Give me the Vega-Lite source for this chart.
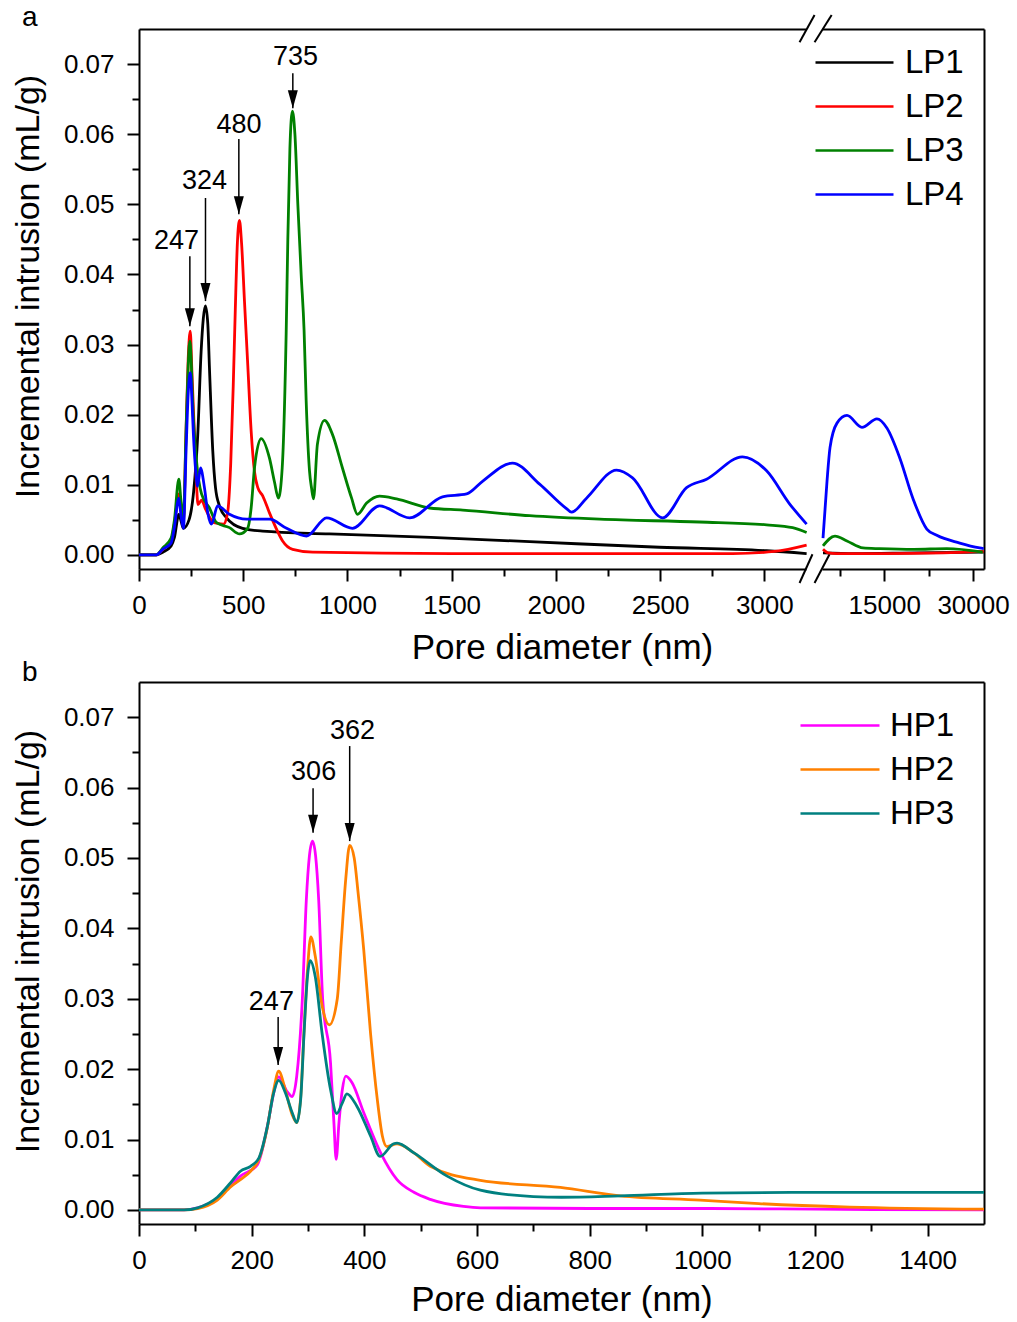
{
 "$schema": "https://vega.github.io/schema/vega-lite/v6.json",
 "padding": {"left": 11, "top": 3, "right": 5, "bottom": 5},
 "bounds": "flush",
 "spacing": 653,
 "config": {
  "font": "Liberation Sans",
  "view": {"stroke": null},
  "axis": {"grid": false, "domainColor": "#000", "domainWidth": 2, "tickColor": "#000", "tickWidth": 2, "labelColor": "#000", "titleColor": "#000", "labelFontSize": 26, "titleFontSize": 34, "titleFontWeight": "normal", "labelFlush": false, "labelOverlap": false},
  "legend": {"labelColor": "#000", "padding": 0},
  "title": {"fontWeight": "normal", "color": "#000"}
 },
 "resolve": {"scale": {"color": "independent"}, "legend": {"color": "independent"}},
 "datasets": {
  "lp": [
   {"s":"LP1","d":0,"v":0},{"s":"LP1","d":82,"v":0},{"s":"LP1","d":114,"v":0.0004},{"s":"LP1","d":154,"v":0.0013},{"s":"LP1","d":170,"v":0.0025},{"s":"LP1","d":191,"v":0.0058},{"s":"LP1","d":202,"v":0.0048},{"s":"LP1","d":213,"v":0.0038},{"s":"LP1","d":240,"v":0.005},{"s":"LP1","d":262,"v":0.009},{"s":"LP1","d":282,"v":0.0172},{"s":"LP1","d":298,"v":0.029},{"s":"LP1","d":319,"v":0.0355},{"s":"LP1","d":330,"v":0.033},{"s":"LP1","d":338,"v":0.0267},{"s":"LP1","d":354,"v":0.0148},{"s":"LP1","d":367,"v":0.0096},{"s":"LP1","d":386,"v":0.007},{"s":"LP1","d":420,"v":0.0053},{"s":"LP1","d":497,"v":0.0038},{"s":"LP1","d":593,"v":0.0034},{"s":"LP1","d":914,"v":0.003},{"s":"LP1","d":1400,"v":0.0025},{"s":"LP1","d":1874,"v":0.0019},{"s":"LP1","d":2497,"v":0.0011},{"s":"LP1","d":3011,"v":0.0006},{"s":"LP1","d":3203,"v":0.0002},{"s":"LP1","d":4671,"v":0.0003},{"s":"LP1","d":10000,"v":0.0002},{"s":"LP1","d":20000,"v":0.0003},{"s":"LP1","d":31800,"v":0.0004},
   {"s":"LP2","d":0,"v":0},{"s":"LP2","d":82,"v":0},{"s":"LP2","d":114,"v":0.0008},{"s":"LP2","d":154,"v":0.002},{"s":"LP2","d":170,"v":0.0045},{"s":"LP2","d":191,"v":0.0087},{"s":"LP2","d":202,"v":0.0062},{"s":"LP2","d":213,"v":0.0048},{"s":"LP2","d":226,"v":0.018},{"s":"LP2","d":236,"v":0.028},{"s":"LP2","d":246,"v":0.0319},{"s":"LP2","d":254,"v":0.026},{"s":"LP2","d":266,"v":0.0172},{"s":"LP2","d":276,"v":0.01},{"s":"LP2","d":283,"v":0.0072},{"s":"LP2","d":300,"v":0.0078},{"s":"LP2","d":320,"v":0.0065},{"s":"LP2","d":360,"v":0.0046},{"s":"LP2","d":405,"v":0.0044},{"s":"LP2","d":425,"v":0.006},{"s":"LP2","d":440,"v":0.013},{"s":"LP2","d":452,"v":0.024},{"s":"LP2","d":462,"v":0.035},{"s":"LP2","d":472,"v":0.0445},{"s":"LP2","d":482,"v":0.0477},{"s":"LP2","d":492,"v":0.0445},{"s":"LP2","d":506,"v":0.0362},{"s":"LP2","d":522,"v":0.027},{"s":"LP2","d":538,"v":0.0177},{"s":"LP2","d":554,"v":0.0119},{"s":"LP2","d":570,"v":0.0096},{"s":"LP2","d":594,"v":0.0084},{"s":"LP2","d":626,"v":0.006},{"s":"LP2","d":658,"v":0.0038},{"s":"LP2","d":689,"v":0.002},{"s":"LP2","d":737,"v":0.0008},{"s":"LP2","d":833,"v":0.0004},{"s":"LP2","d":1500,"v":0.0002},{"s":"LP2","d":2500,"v":0.0002},{"s":"LP2","d":2848,"v":0.0002},{"s":"LP2","d":3050,"v":0.0005},{"s":"LP2","d":3203,"v":0.0014},{"s":"LP2","d":4671,"v":0.0008},{"s":"LP2","d":5500,"v":0.0003},{"s":"LP2","d":7000,"v":0.0002},{"s":"LP2","d":15000,"v":0.0002},{"s":"LP2","d":25000,"v":0.0003},{"s":"LP2","d":31800,"v":0.0005},
   {"s":"LP3","d":0,"v":0},{"s":"LP3","d":82,"v":0},{"s":"LP3","d":114,"v":0.001},{"s":"LP3","d":154,"v":0.0024},{"s":"LP3","d":170,"v":0.005},{"s":"LP3","d":191,"v":0.0108},{"s":"LP3","d":202,"v":0.0075},{"s":"LP3","d":213,"v":0.0053},{"s":"LP3","d":226,"v":0.018},{"s":"LP3","d":236,"v":0.027},{"s":"LP3","d":244,"v":0.0305},{"s":"LP3","d":250,"v":0.028},{"s":"LP3","d":257,"v":0.022},{"s":"LP3","d":276,"v":0.0134},{"s":"LP3","d":300,"v":0.0087},{"s":"LP3","d":338,"v":0.0067},{"s":"LP3","d":372,"v":0.0046},{"s":"LP3","d":434,"v":0.0039},{"s":"LP3","d":482,"v":0.003},{"s":"LP3","d":521,"v":0.0038},{"s":"LP3","d":538,"v":0.0067},{"s":"LP3","d":554,"v":0.0124},{"s":"LP3","d":586,"v":0.0166},{"s":"LP3","d":626,"v":0.0138},{"s":"LP3","d":650,"v":0.0104},{"s":"LP3","d":669,"v":0.0081},{"s":"LP3","d":687,"v":0.0124},{"s":"LP3","d":706,"v":0.0315},{"s":"LP3","d":714,"v":0.045},{"s":"LP3","d":724,"v":0.058},{"s":"LP3","d":736,"v":0.0633},{"s":"LP3","d":748,"v":0.06},{"s":"LP3","d":762,"v":0.05},{"s":"LP3","d":778,"v":0.04},{"s":"LP3","d":792,"v":0.032},{"s":"LP3","d":802,"v":0.022},{"s":"LP3","d":818,"v":0.012},{"s":"LP3","d":828,"v":0.0095},{"s":"LP3","d":837,"v":0.008},{"s":"LP3","d":856,"v":0.0158},{"s":"LP3","d":890,"v":0.0192},{"s":"LP3","d":928,"v":0.0172},{"s":"LP3","d":976,"v":0.0124},{"s":"LP3","d":1020,"v":0.0081},{"s":"LP3","d":1048,"v":0.0058},{"s":"LP3","d":1092,"v":0.0074},{"s":"LP3","d":1154,"v":0.0084},{"s":"LP3","d":1236,"v":0.008},{"s":"LP3","d":1394,"v":0.0067},{"s":"LP3","d":1553,"v":0.0064},{"s":"LP3","d":1874,"v":0.0056},{"s":"LP3","d":2210,"v":0.0051},{"s":"LP3","d":2689,"v":0.0047},{"s":"LP3","d":3011,"v":0.0043},{"s":"LP3","d":3136,"v":0.0039},{"s":"LP3","d":3203,"v":0.0032},{"s":"LP3","d":4671,"v":0.0013},{"s":"LP3","d":6693,"v":0.0027},{"s":"LP3","d":8715,"v":0.002},{"s":"LP3","d":11411,"v":0.001},{"s":"LP3","d":14275,"v":0.0009},{"s":"LP3","d":20000,"v":0.0008},{"s":"LP3","d":25565,"v":0.0009},{"s":"LP3","d":31631,"v":0.0004},
   {"s":"LP4","d":0,"v":0},{"s":"LP4","d":82,"v":0},{"s":"LP4","d":114,"v":0.0008},{"s":"LP4","d":154,"v":0.0017},{"s":"LP4","d":170,"v":0.004},{"s":"LP4","d":191,"v":0.0081},{"s":"LP4","d":202,"v":0.0055},{"s":"LP4","d":213,"v":0.0038},{"s":"LP4","d":226,"v":0.015},{"s":"LP4","d":236,"v":0.023},{"s":"LP4","d":246,"v":0.026},{"s":"LP4","d":254,"v":0.022},{"s":"LP4","d":261,"v":0.0172},{"s":"LP4","d":272,"v":0.012},{"s":"LP4","d":281,"v":0.0098},{"s":"LP4","d":295,"v":0.0124},{"s":"LP4","d":314,"v":0.0096},{"s":"LP4","d":330,"v":0.006},{"s":"LP4","d":348,"v":0.0044},{"s":"LP4","d":377,"v":0.007},{"s":"LP4","d":434,"v":0.0058},{"s":"LP4","d":516,"v":0.0051},{"s":"LP4","d":626,"v":0.0051},{"s":"LP4","d":708,"v":0.0038},{"s":"LP4","d":804,"v":0.0027},{"s":"LP4","d":900,"v":0.0053},{"s":"LP4","d":1024,"v":0.0038},{"s":"LP4","d":1154,"v":0.007},{"s":"LP4","d":1298,"v":0.0053},{"s":"LP4","d":1456,"v":0.0083},{"s":"LP4","d":1572,"v":0.0087},{"s":"LP4","d":1648,"v":0.0105},{"s":"LP4","d":1792,"v":0.0131},{"s":"LP4","d":1922,"v":0.0101},{"s":"LP4","d":2051,"v":0.0066},{"s":"LP4","d":2075,"v":0.0061},{"s":"LP4","d":2147,"v":0.0081},{"s":"LP4","d":2291,"v":0.0121},{"s":"LP4","d":2368,"v":0.011},{"s":"LP4","d":2512,"v":0.0053},{"s":"LP4","d":2627,"v":0.0096},{"s":"LP4","d":2723,"v":0.0108},{"s":"LP4","d":2895,"v":0.014},{"s":"LP4","d":3011,"v":0.012},{"s":"LP4","d":3121,"v":0.0073},{"s":"LP4","d":3203,"v":0.0044},{"s":"LP4","d":4671,"v":0.0024},{"s":"LP4","d":5345,"v":0.0105},{"s":"LP4","d":5851,"v":0.0153},{"s":"LP4","d":7030,"v":0.0188},{"s":"LP4","d":8715,"v":0.0199},{"s":"LP4","d":11242,"v":0.0182},{"s":"LP4","d":13770,"v":0.0194},{"s":"LP4","d":15455,"v":0.0181},{"s":"LP4","d":17645,"v":0.0138},{"s":"LP4","d":19836,"v":0.0081},{"s":"LP4","d":22195,"v":0.0037},{"s":"LP4","d":23880,"v":0.0028},{"s":"LP4","d":27756,"v":0.0017},{"s":"LP4","d":31126,"v":0.001},{"s":"LP4","d":31800,"v":0.0009}
  ],
  "hp": [
   {"s":"HP1","d":0,"v":0},{"s":"HP1","d":80,"v":0},{"s":"HP1","d":104,"v":0.0003},{"s":"HP1","d":139,"v":0.0016},{"s":"HP1","d":163,"v":0.0035},{"s":"HP1","d":180,"v":0.0048},{"s":"HP1","d":210,"v":0.0064},{"s":"HP1","d":228,"v":0.0119},{"s":"HP1","d":239,"v":0.0166},{"s":"HP1","d":248,"v":0.0189},{"s":"HP1","d":263,"v":0.0168},{"s":"HP1","d":272,"v":0.0161},{"s":"HP1","d":280,"v":0.019},{"s":"HP1","d":290,"v":0.03},{"s":"HP1","d":297,"v":0.044},{"s":"HP1","d":308,"v":0.0524},{"s":"HP1","d":319,"v":0.044},{"s":"HP1","d":326,"v":0.03},{"s":"HP1","d":340,"v":0.0209},{"s":"HP1","d":346,"v":0.0124},{"s":"HP1","d":350,"v":0.0072},{"s":"HP1","d":355,"v":0.0124},{"s":"HP1","d":361,"v":0.0171},{"s":"HP1","d":367,"v":0.019},{"s":"HP1","d":378,"v":0.0181},{"s":"HP1","d":399,"v":0.0138},{"s":"HP1","d":429,"v":0.0081},{"s":"HP1","d":458,"v":0.0043},{"s":"HP1","d":488,"v":0.0025},{"s":"HP1","d":517,"v":0.0015},{"s":"HP1","d":576,"v":0.0005},{"s":"HP1","d":606,"v":0.0003},{"s":"HP1","d":800,"v":0.0002},{"s":"HP1","d":1000,"v":0.0002},{"s":"HP1","d":1200,"v":0.0001},{"s":"HP1","d":1500,"v":0},
   {"s":"HP2","d":0,"v":0},{"s":"HP2","d":80,"v":0},{"s":"HP2","d":104,"v":0.0002},{"s":"HP2","d":139,"v":0.0014},{"s":"HP2","d":163,"v":0.0033},{"s":"HP2","d":180,"v":0.0043},{"s":"HP2","d":198,"v":0.0055},{"s":"HP2","d":213,"v":0.0072},{"s":"HP2","d":228,"v":0.0118},{"s":"HP2","d":239,"v":0.017},{"s":"HP2","d":248,"v":0.0197},{"s":"HP2","d":260,"v":0.017},{"s":"HP2","d":272,"v":0.0135},{"s":"HP2","d":280,"v":0.0124},{"s":"HP2","d":287,"v":0.016},{"s":"HP2","d":293,"v":0.0255},{"s":"HP2","d":299,"v":0.034},{"s":"HP2","d":305,"v":0.0388},{"s":"HP2","d":313,"v":0.036},{"s":"HP2","d":325,"v":0.029},{"s":"HP2","d":338,"v":0.0263},{"s":"HP2","d":352,"v":0.03},{"s":"HP2","d":359,"v":0.038},{"s":"HP2","d":367,"v":0.047},{"s":"HP2","d":374,"v":0.0518},{"s":"HP2","d":382,"v":0.05},{"s":"HP2","d":389,"v":0.045},{"s":"HP2","d":399,"v":0.0369},{"s":"HP2","d":411,"v":0.0251},{"s":"HP2","d":423,"v":0.0157},{"s":"HP2","d":432,"v":0.0105},{"s":"HP2","d":440,"v":0.009},{"s":"HP2","d":458,"v":0.0094},{"s":"HP2","d":488,"v":0.0081},{"s":"HP2","d":517,"v":0.0062},{"s":"HP2","d":606,"v":0.0042},{"s":"HP2","d":748,"v":0.0032},{"s":"HP2","d":854,"v":0.002},{"s":"HP2","d":996,"v":0.0014},{"s":"HP2","d":1100,"v":0.0009},{"s":"HP2","d":1262,"v":0.0004},{"s":"HP2","d":1500,"v":0.0001},
   {"s":"HP3","d":0,"v":0},{"s":"HP3","d":80,"v":0},{"s":"HP3","d":104,"v":0.0003},{"s":"HP3","d":139,"v":0.0018},{"s":"HP3","d":163,"v":0.0039},{"s":"HP3","d":180,"v":0.0055},{"s":"HP3","d":198,"v":0.0062},{"s":"HP3","d":213,"v":0.0074},{"s":"HP3","d":228,"v":0.0119},{"s":"HP3","d":239,"v":0.0166},{"s":"HP3","d":248,"v":0.0184},{"s":"HP3","d":260,"v":0.0166},{"s":"HP3","d":272,"v":0.0138},{"s":"HP3","d":280,"v":0.0124},{"s":"HP3","d":287,"v":0.0157},{"s":"HP3","d":293,"v":0.0251},{"s":"HP3","d":299,"v":0.0331},{"s":"HP3","d":304,"v":0.0354},{"s":"HP3","d":313,"v":0.0331},{"s":"HP3","d":325,"v":0.0251},{"s":"HP3","d":340,"v":0.0171},{"s":"HP3","d":351,"v":0.0137},{"s":"HP3","d":361,"v":0.0152},{"s":"HP3","d":369,"v":0.0165},{"s":"HP3","d":387,"v":0.0147},{"s":"HP3","d":411,"v":0.0105},{"s":"HP3","d":428,"v":0.0076},{"s":"HP3","d":452,"v":0.0094},{"s":"HP3","d":458,"v":0.0095},{"s":"HP3","d":488,"v":0.0081},{"s":"HP3","d":547,"v":0.0048},{"s":"HP3","d":606,"v":0.0028},{"s":"HP3","d":700,"v":0.0019},{"s":"HP3","d":750,"v":0.0018},{"s":"HP3","d":854,"v":0.002},{"s":"HP3","d":1000,"v":0.0024},{"s":"HP3","d":1200,"v":0.0025},{"s":"HP3","d":1500,"v":0.0025}
  ],
  "annTop": [
   {"t":"247","x":244,"xl":180,"yl":0.0447,"y0":0.0426,"y1":0.0326},
   {"t":"324","x":319,"xl":314,"yl":0.0533,"y0":0.0509,"y1":0.0362},
   {"t":"480","x":479,"xl":480,"yl":0.0613,"y0":0.0593,"y1":0.0486},
   {"t":"735","x":738,"xl":751,"yl":0.071,"y0":0.0687,"y1":0.0637}
  ],
  "annBot": [
   {"t":"247","x":247,"xl":235,"yl":0.0295,"y0":0.0274,"y1":0.0206},
   {"t":"306","x":309,"xl":310,"yl":0.0622,"y0":0.0599,"y1":0.0536},
   {"t":"362","x":374,"xl":379,"yl":0.0681,"y0":0.0659,"y1":0.0524}
  ],
  "breaks": [
   {"x":3169,"x2":3231,"y":-0.004,"y2":0.0001},
   {"x":3241,"x2":3313,"y":-0.004,"y2":0.0001},
   {"x":3169,"x2":3241,"y":0.0731,"y2":0.077},
   {"x":3241,"x2":3323,"y":0.0731,"y2":0.077}
  ]
 },
 "vconcat": [
  {
   "bounds": "flush",
   "spacing": 16,
   "resolve": {"legend": {"color": "independent"}},
   "hconcat": [
    {
     "width": 667, "height": 540,
     "title": {"text": "a", "anchor": "start", "frame": "group", "fontSize": 28, "dx": -117, "dy": 18, "offset": 0},
     "resolve": {"axis": {"x": "independent", "y": "independent"}},
     "layer": [
      {
       "data": {"name": "lp"},
       "transform": [{"filter": "datum.d <= 3300"}],
       "mark": {"type": "line", "strokeWidth": 2.8, "interpolate": "monotone"},
       "encoding": {
        "x": {"field": "d", "type": "quantitative", "scale": {"domain": [0, 3200], "nice": false, "zero": false},
              "axis": {"orient": "bottom", "values": [0, 500, 1000, 1500, 2000, 2500, 3000], "format": "d", "tickSize": 12, "labelPadding": 11, "title": "Pore diameter (nm)", "titleFontSize": 35, "titleX": 423, "titlePadding": 12}},
        "y": {"field": "v", "type": "quantitative", "scale": {"domain": [-0.002, 0.075], "nice": false, "zero": false},
              "axis": {"orient": "left", "values": [0, 0.01, 0.02, 0.03, 0.04, 0.05, 0.06, 0.07], "format": ".2f", "tickSize": 12, "labelPadding": 13, "title": "Incremental intrusion (mL/g)", "titleY": 257, "titlePadding": 18}},
        "color": {"field": "s", "type": "nominal", "scale": {"domain": ["LP1", "LP2", "LP3", "LP4"], "range": ["#000000", "#ff0000", "#008000", "#0000ff"]}, "legend": null}
       }
      },
      {
       "data": {"name": "lp"},
       "transform": [{"filter": "datum.d <= 3300"}],
       "mark": {"type": "point", "opacity": 0},
       "encoding": {
        "x": {"field": "d", "type": "quantitative", "scale": {"domain": [0, 3200], "nice": false, "zero": false},
              "axis": {"orient": "bottom", "values": [250, 750, 1250, 1750, 2250, 2750], "tickSize": 7, "labels": false, "domain": false, "title": null}},
        "y": {"field": "v", "type": "quantitative", "scale": {"domain": [-0.002, 0.075], "nice": false, "zero": false},
              "axis": {"orient": "left", "values": [0.005, 0.015, 0.025, 0.035, 0.045, 0.055, 0.065], "tickSize": 7, "labels": false, "domain": false, "title": null}}
       }
      },
      {
       "data": {"name": "lp"},
       "transform": [{"filter": "datum.d <= 3300"}],
       "mark": {"type": "point", "opacity": 0},
       "encoding": {
        "x": {"field": "d", "type": "quantitative", "scale": {"domain": [0, 3200], "nice": false, "zero": false},
              "axis": {"orient": "top", "ticks": false, "labels": false, "title": null}},
        "y": {"field": "v", "type": "quantitative", "scale": {"domain": [-0.002, 0.075], "nice": false, "zero": false}, "axis": null}
       }
      },
      {
       "data": {"name": "breaks"},
       "mark": {"type": "rule", "strokeWidth": 2, "color": "#000"},
       "encoding": {
        "x": {"field": "x", "type": "quantitative", "scale": {"domain": [0, 3200], "nice": false, "zero": false}, "axis": null},
        "x2": {"field": "x2"},
        "y": {"field": "y", "type": "quantitative", "scale": {"domain": [-0.002, 0.075], "nice": false, "zero": false}, "axis": null},
        "y2": {"field": "y2"}
       }
      },
      {
       "data": {"name": "annTop"},
       "mark": {"type": "rule", "strokeWidth": 1.5, "color": "#000"},
       "encoding": {
        "x": {"field": "x", "type": "quantitative", "scale": {"domain": [0, 3200], "nice": false, "zero": false}, "axis": null},
        "y": {"field": "y0", "type": "quantitative", "scale": {"domain": [-0.002, 0.075], "nice": false, "zero": false}, "axis": null},
        "y2": {"field": "y1"}
       }
      },
      {
       "data": {"name": "annTop"},
       "mark": {"type": "point", "shape": "M0,0L-5,-18L5,-18Z", "size": 4, "filled": true, "color": "#000", "opacity": 1, "strokeWidth": 0},
       "encoding": {
        "x": {"field": "x", "type": "quantitative", "scale": {"domain": [0, 3200], "nice": false, "zero": false}, "axis": null},
        "y": {"field": "y1", "type": "quantitative", "scale": {"domain": [-0.002, 0.075], "nice": false, "zero": false}, "axis": null}
       }
      },
      {
       "data": {"name": "annTop"},
       "mark": {"type": "text", "fontSize": 27, "color": "#000", "baseline": "middle", "align": "center"},
       "encoding": {
        "x": {"field": "xl", "type": "quantitative", "scale": {"domain": [0, 3200], "nice": false, "zero": false}, "axis": null},
        "y": {"field": "yl", "type": "quantitative", "scale": {"domain": [-0.002, 0.075], "nice": false, "zero": false}, "axis": null},
        "text": {"field": "t"}
       }
      }
     ]
    },
    {
     "width": 162, "height": 540,
     "resolve": {"axis": {"x": "independent", "y": "independent"}},
     "layer": [
      {
       "data": {"name": "lp"},
       "transform": [{"filter": "datum.d >= 4500"}],
       "mark": {"type": "line", "strokeWidth": 2.8, "interpolate": "monotone"},
       "encoding": {
        "x": {"field": "d", "type": "quantitative", "scale": {"domain": [4500, 31850], "nice": false, "zero": false},
              "axis": {"orient": "bottom", "values": [15000, 30000], "format": "d", "tickSize": 12, "labelPadding": 11, "title": null}},
        "y": {"field": "v", "type": "quantitative", "scale": {"domain": [-0.002, 0.075], "nice": false, "zero": false},
              "axis": {"orient": "right", "ticks": false, "labels": false, "title": null}},
        "color": {"field": "s", "type": "nominal", "scale": {"domain": ["LP1", "LP2", "LP3", "LP4"], "range": ["#000000", "#ff0000", "#008000", "#0000ff"]},
                  "legend": {"orient": "none", "legendX": -7, "legendY": 17, "title": null, "symbolType": "M-16,0H62", "symbolSize": 4, "symbolStrokeWidth": 2.5, "labelFontSize": 33, "labelOffset": 57, "rowPadding": 10}}
       }
      },
      {
       "data": {"name": "lp"},
       "transform": [{"filter": "datum.d >= 4500"}],
       "mark": {"type": "point", "opacity": 0},
       "encoding": {
        "x": {"field": "d", "type": "quantitative", "scale": {"domain": [4500, 31850], "nice": false, "zero": false},
              "axis": {"orient": "bottom", "values": [7500, 22500], "tickSize": 7, "labels": false, "domain": false, "title": null}},
        "y": {"field": "v", "type": "quantitative", "scale": {"domain": [-0.002, 0.075], "nice": false, "zero": false}, "axis": null}
       }
      },
      {
       "data": {"name": "lp"},
       "transform": [{"filter": "datum.d >= 4500"}],
       "mark": {"type": "point", "opacity": 0},
       "encoding": {
        "x": {"field": "d", "type": "quantitative", "scale": {"domain": [4500, 31850], "nice": false, "zero": false},
              "axis": {"orient": "top", "ticks": false, "labels": false, "title": null}},
        "y": {"field": "v", "type": "quantitative", "scale": {"domain": [-0.002, 0.075], "nice": false, "zero": false}, "axis": null}
       }
      }
     ]
    }
   ]
  },
  {
   "width": 845, "height": 542,
   "title": {"text": "b", "anchor": "start", "frame": "group", "fontSize": 28, "dx": -117, "dy": 5, "offset": 0},
   "resolve": {"axis": {"x": "independent", "y": "independent"}},
   "layer": [
    {
     "data": {"name": "hp"},
     "mark": {"type": "line", "strokeWidth": 2.8, "interpolate": "monotone"},
     "encoding": {
      "x": {"field": "d", "type": "quantitative", "scale": {"domain": [0, 1500], "nice": false, "zero": false},
            "axis": {"orient": "bottom", "values": [0, 200, 400, 600, 800, 1000, 1200, 1400], "format": "d", "tickSize": 12, "labelPadding": 11, "title": "Pore diameter (nm)", "titleFontSize": 35, "titlePadding": 9}},
      "y": {"field": "v", "type": "quantitative", "scale": {"domain": [-0.002, 0.075], "nice": false, "zero": false},
            "axis": {"orient": "left", "values": [0, 0.01, 0.02, 0.03, 0.04, 0.05, 0.06, 0.07], "format": ".2f", "tickSize": 12, "labelPadding": 13, "title": "Incremental intrusion (mL/g)", "titleY": 259, "titlePadding": 18}},
      "color": {"field": "s", "type": "nominal", "scale": {"domain": ["HP1", "HP2", "HP3"], "range": ["#ff00ff", "#ff8000", "#008080"]},
                "legend": {"orient": "none", "legendX": 661, "legendY": 27, "title": null, "symbolType": "M-16,0H63", "symbolSize": 4, "symbolStrokeWidth": 2.5, "labelFontSize": 33, "labelOffset": 57, "rowPadding": 10}}
     }
    },
    {
     "data": {"name": "hp"},
     "mark": {"type": "point", "opacity": 0},
     "encoding": {
      "x": {"field": "d", "type": "quantitative", "scale": {"domain": [0, 1500], "nice": false, "zero": false},
            "axis": {"orient": "bottom", "values": [100, 300, 500, 700, 900, 1100, 1300], "tickSize": 7, "labels": false, "domain": false, "title": null}},
      "y": {"field": "v", "type": "quantitative", "scale": {"domain": [-0.002, 0.075], "nice": false, "zero": false},
            "axis": {"orient": "left", "values": [0.005, 0.015, 0.025, 0.035, 0.045, 0.055, 0.065], "tickSize": 7, "labels": false, "domain": false, "title": null}}
     }
    },
    {
     "data": {"name": "hp"},
     "mark": {"type": "point", "opacity": 0},
     "encoding": {
      "x": {"field": "d", "type": "quantitative", "scale": {"domain": [0, 1500], "nice": false, "zero": false},
            "axis": {"orient": "top", "ticks": false, "labels": false, "title": null}},
      "y": {"field": "v", "type": "quantitative", "scale": {"domain": [-0.002, 0.075], "nice": false, "zero": false},
            "axis": {"orient": "right", "ticks": false, "labels": false, "title": null}}
     }
    },
    {
     "data": {"name": "annBot"},
     "mark": {"type": "rule", "strokeWidth": 1.5, "color": "#000"},
     "encoding": {
      "x": {"field": "x", "type": "quantitative", "scale": {"domain": [0, 1500], "nice": false, "zero": false}, "axis": null},
      "y": {"field": "y0", "type": "quantitative", "scale": {"domain": [-0.002, 0.075], "nice": false, "zero": false}, "axis": null},
      "y2": {"field": "y1"}
     }
    },
    {
     "data": {"name": "annBot"},
     "mark": {"type": "point", "shape": "M0,0L-5,-18L5,-18Z", "size": 4, "filled": true, "color": "#000", "opacity": 1, "strokeWidth": 0},
     "encoding": {
      "x": {"field": "x", "type": "quantitative", "scale": {"domain": [0, 1500], "nice": false, "zero": false}, "axis": null},
      "y": {"field": "y1", "type": "quantitative", "scale": {"domain": [-0.002, 0.075], "nice": false, "zero": false}, "axis": null}
     }
    },
    {
     "data": {"name": "annBot"},
     "mark": {"type": "text", "fontSize": 27, "color": "#000", "baseline": "middle", "align": "center"},
     "encoding": {
      "x": {"field": "xl", "type": "quantitative", "scale": {"domain": [0, 1500], "nice": false, "zero": false}, "axis": null},
      "y": {"field": "yl", "type": "quantitative", "scale": {"domain": [-0.002, 0.075], "nice": false, "zero": false}, "axis": null},
      "text": {"field": "t"}
     }
    }
   ]
  }
 ]
}
